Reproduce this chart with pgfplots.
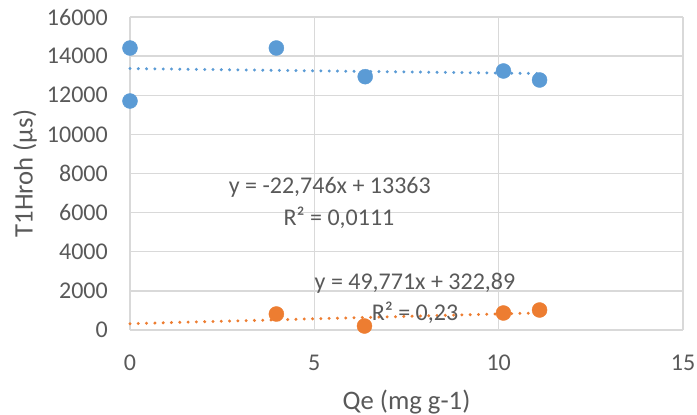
\documentclass[border=0pt]{standalone}
\usepackage{fontspec}
\setmainfont{Carlito}
\usepackage{pgfplots}
\pgfplotsset{compat=1.18}
\definecolor{sblue}{HTML}{5B9BD5}
\definecolor{sorange}{HTML}{ED7D31}
\definecolor{tgray}{HTML}{595959}
\definecolor{ggray}{HTML}{D9D9D9}
\begin{document}
\begin{tikzpicture}
\useasboundingbox (-130pt,-85pt) rectangle (567pt,330pt);
\begin{axis}[
  at={(0pt,0pt)}, anchor=south west,
  scale only axis, width=553pt, height=313pt,
  xmin=0, xmax=15, ymin=0, ymax=16000,
  xtick={0,5,10,15}, ytick={0,2000,4000,6000,8000,10000,12000,14000,16000},
  grid=major, major grid style={ggray, line width=1.3pt},
  axis lines*=left,
  axis line style={ggray, line width=1.3pt},
  major tick length=0pt, tick style={draw=none},
  scaled ticks=false,
  /pgf/number format/.cd, 1000 sep={}, assume math mode=true, /pgfplots/.cd,
  ticklabel style={font=\fontsize{24}{28}\selectfont, text=tgray, inner sep=0pt},
  xticklabel style={anchor=north, yshift=-24.5pt},
  yticklabel style={anchor=east, xshift=-22pt},
  xlabel={Qe (mg g-1)}, ylabel={T1Hroh (µs)},
  label style={font=\fontsize{26.7}{30}\selectfont, text=tgray},
  xlabel style={at={(rel axis cs:0.5,-0.23)}, anchor=center},
  ylabel style={at={(rel axis cs:-0.19,0.5)}, anchor=center},
  clip=false,
]
% trendlines
\addplot[sblue, line width=3.3pt, line cap=round, dash pattern=on 0pt off 8.3pt] coordinates {(0,13363) (11.1,13110.5)};
\addplot[sorange, line width=3.3pt, line cap=round, dash pattern=on 0pt off 8.3pt] coordinates {(0,322.89) (11.1,875.4)};
% data
\addplot[only marks, mark=*, mark size=7.5pt, color=sblue, mark options={fill=sblue, draw=sblue}] coordinates {
 (0,14415) (0,11706) (3.97,14415) (6.38,12950) (10.13,13240) (11.11,12780)};
\addplot[only marks, mark=*, mark size=7.5pt, color=sorange, mark options={fill=sorange, draw=sorange}] coordinates {
 (3.97,818) (6.36,204) (10.13,869) (11.11,1022)};
% equations
\node[font=\fontsize{24}{28}\selectfont, text=tgray, anchor=center] at (axis cs:5.42,7310) {y = -22,746x + 13363};
\node[font=\fontsize{24}{28}\selectfont, text=tgray, anchor=center] at (axis cs:5.67,5725) {R² = 0,0111};
\node[font=\fontsize{24}{28}\selectfont, text=tgray, anchor=center] at (axis cs:7.73,2403) {y = 49,771x + 322,89};
\node[font=\fontsize{24}{28}\selectfont, text=tgray, anchor=center] at (axis cs:7.73,869) {R² = 0,23};
\end{axis}
\end{tikzpicture}
\end{document}
